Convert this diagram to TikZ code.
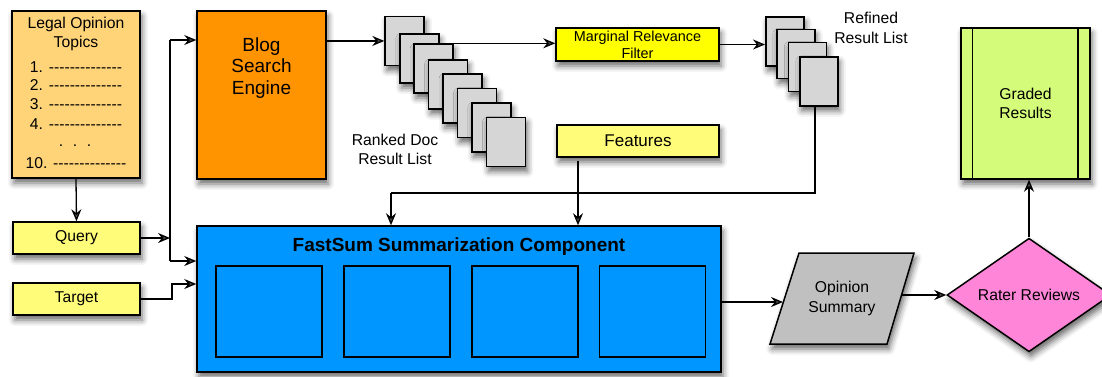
\documentclass[tikz,border=0pt]{standalone}
\usepackage{fontspec}
\setmainfont{Liberation Sans}[Ligatures=TeXOff]
\usetikzlibrary{arrows.meta,shadows.blur,shapes.geometric,calc}
\definecolor{legalc}{HTML}{FFD479}
\definecolor{blogc}{HTML}{FF9300}
\definecolor{yelc}{HTML}{FFFC79}
\definecolor{filterc}{HTML}{FFFF00}
\definecolor{fastc}{HTML}{0096FF}
\definecolor{docc}{HTML}{D6D6D6}
\definecolor{gradc}{HTML}{D4FB79}
\definecolor{pinkc}{HTML}{FF85D8}
\definecolor{opc}{HTML}{C0C0C0}
\newcommand{\dl}{--------------}
\begin{document}
\begin{tikzpicture}[x=1pt,y=-1pt,
  shad/.style={blur shadow={shadow xshift=2pt,shadow yshift=-5pt,shadow blur radius=6pt,shadow opacity=60}},
  box/.style={draw=black,line width=1.5pt,shad,inner sep=0pt},
  inbox/.style={draw=black,line width=1.2pt,fill=fastc,minimum width=106pt,minimum height=91pt,inner sep=0pt},
  doc/.style={box,fill=docc,minimum width=39pt,minimum height=49pt},
  lbl/.style={font=\fontsize{15.7}{19}\selectfont,align=center,inner sep=0pt},
  arr/.style={-{Stealth[length=12pt,width=10pt,inset=4pt]},line width=1.3pt},
  ln/.style={line width=1.3pt}]
\useasboundingbox (0,0) rectangle (1102,376);

% Legal Opinion Topics
\node[box,fill=legalc,minimum width=128pt,minimum height=167pt] (legal) at (76,94.5) {};
\node[lbl] (lt) at (76,33.5) {Legal Opinion\\Topics};
\node[lbl] (l1) at (76,67) {1. \dl};
\node[lbl] (l2) at (76,85.5) {2. \dl};
\node[lbl] (l3) at (76,104.5) {3. \dl};
\node[lbl] (l4) at (76,124) {4. \dl};
\node[lbl] (l5) at (75,146) {.\hspace{9.6pt}.\hspace{9.6pt}.};
\node[lbl] (l6) at (76,163) {10. \dl};

% Blog Search Engine
\node[box,fill=blogc,minimum width=129pt,minimum height=168pt] (blog) at (261.5,95) {};
\node[font=\fontsize{19}{21.7}\selectfont,align=center,inner sep=0pt] (blogt) at (261.5,68) {Blog\\Search\\Engine};

% Query / Target
\node[box,fill=yelc,minimum width=127pt,minimum height=32pt,lbl] (query) at (76.5,238) {Query};
\node[box,fill=yelc,minimum width=127pt,minimum height=32pt,lbl] (target) at (76.5,299) {Target};

% Ranked doc list
\foreach \x/\y [count=\k from 0] in {384.3/15.7,399/33.3,413.3/43.3,427.7/59,442.3/73.3,456.7/87.7,471/102.3,485.7/116.7}
  \node[doc,anchor=north west] (r\k) at (\x,\y) {};
\node[lbl] (rlab) at (395,149.5) {Ranked Doc\\Result List};

% Marginal Relevance Filter
\node[box,fill=filterc,minimum width=163pt,minimum height=33pt,font=\fontsize{14.4}{17}\selectfont,align=center] (filter) at (637.5,44.5) {Marginal Relevance\\Filter};

% Refined result list
\foreach \x/\y [count=\k from 0] in {765/16,776/28.5,787.5/41.5,799/56}
  \node[doc,minimum width=38pt,anchor=north west] (f\k) at (\x,\y) {};
\node[lbl,font=\fontsize{15.7}{20}\selectfont] (flab) at (871,28) {Refined\\Result List};

% Features
\node[box,fill=yelc,minimum width=162pt,minimum height=32pt,font=\fontsize{17}{20}\selectfont] (features) at (638,141) {Features};

% Graded results
\node[box,fill=gradc,minimum width=129pt,minimum height=151pt,lbl] (graded) at (1025.5,103.5) {Graded\\Results};
\draw[line width=1.5pt] ([xshift=12pt]graded.north west) -- ([xshift=12pt]graded.south west);
\draw[line width=1.5pt] ([xshift=-13pt]graded.north east) -- ([xshift=-13pt]graded.south east);

% FastSum
\node[box,fill=fastc,minimum width=524pt,minimum height=146pt] (fast) at (459,299) {};
\node[font=\bfseries\fontsize{19}{22}\selectfont,inner sep=0pt] (ftitle) at (459,247) {FastSum Summarization Component};
\node[inbox] (c1) at (269,311.5) {};
\node[inbox] (c2) at (397,311.5) {};
\node[inbox] (c3) at (525,311.5) {};
\node[inbox] (c4) at (652.5,311.5) {};

% Opinion summary (parallelogram)
\coordinate (oTL) at (799,253);
\coordinate (oTR) at (914,253);
\coordinate (oBR) at (887,344);
\coordinate (oBL) at (770,344);
\path[box,fill=opc] (oTL) -- (oTR) -- (oBR) -- (oBL) -- cycle;
\node[lbl,font=\fontsize{15.7}{20}\selectfont] (opin) at (842,298) {Opinion\\Summary};
\coordinate (oL) at (783,302);
\coordinate (oR) at (902,295);

% Rater reviews
\node[diamond,box,fill=pinkc,minimum width=164pt,minimum height=90pt,lbl] (rater) at (1029,295) {Rater Reviews};

% Connectors
\draw[arr] (legal.south) -- (query.north);
\coordinate (vtop) at (170,40);
\coordinate (vbot) at (170,261);
\draw[ln] (vtop) -- (vbot);
\draw[arr] (vtop) -- (vtop -| blog.west);
\draw[arr] (query.east) -- (query.east -| vtop);
\draw[arr] (vbot) -- (vbot -| fast.west);
\coordinate (tj) at (172,284);
\draw[arr] (target.east) -| (tj) -- (tj -| fast.west);
\draw[arr] (r0.west -| blog.east) -- (r0.west);
\draw[arr] (r2.north east) -- (r2.north east -| filter.west);
\draw[arr] (filter.east) -- (filter.east -| f0.west);
\coordinate (hr) at (815,193);
\coordinate (hl) at (391,193);
\draw[ln] (f3.south -| hr) -- (hr) -- (hl);
\draw[arr] (hl) -- (hl |- fast.north);
\coordinate (fx) at (578,161);
\draw[arr] (fx) -- (fx |- fast.north);
\draw[arr] (fast.east |- oL) -- (oL);
\draw[arr] (oR) -- (rater.west);
\draw[arr] (rater.north) -- (rater.north |- graded.south);
\end{tikzpicture}
\end{document}
